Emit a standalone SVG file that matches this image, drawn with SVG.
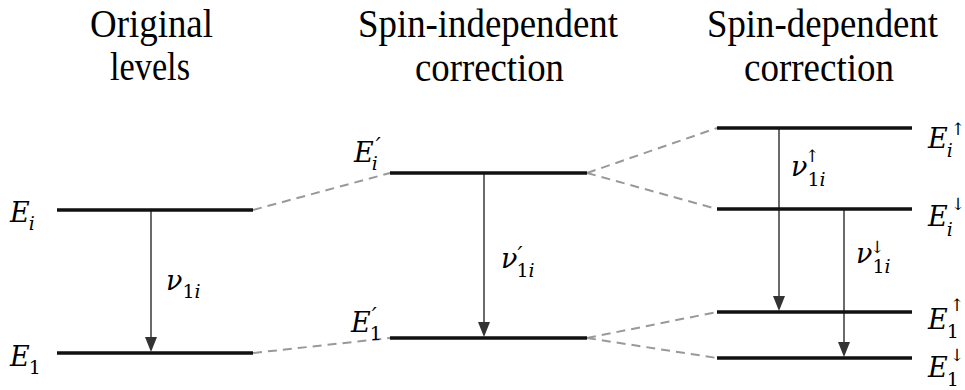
<svg xmlns="http://www.w3.org/2000/svg" width="965" height="390" viewBox="0 0 965 390">
<rect width="965" height="390" fill="#fff"/>

<g id="titles">
<text x="90" y="37" font-family="Liberation Serif" font-size="40" textLength="123" lengthAdjust="spacingAndGlyphs">Original</text>
<text x="110" y="80" font-family="Liberation Serif" font-size="40" textLength="80" lengthAdjust="spacingAndGlyphs">levels</text>
<text x="358" y="37" font-family="Liberation Serif" font-size="40" textLength="260" lengthAdjust="spacingAndGlyphs">Spin-independent</text>
<text x="415" y="81" font-family="Liberation Serif" font-size="40" textLength="149" lengthAdjust="spacingAndGlyphs">correction</text>
<text x="707" y="37" font-family="Liberation Serif" font-size="40" textLength="231" lengthAdjust="spacingAndGlyphs">Spin-dependent</text>
<text x="744" y="81" font-family="Liberation Serif" font-size="40" textLength="150" lengthAdjust="spacingAndGlyphs">correction</text>
</g>

<g id="connectors">
<g stroke="#999" stroke-width="2" stroke-dasharray="9 6" fill="none">
<line x1="253" y1="210" x2="390" y2="173"/>
<line x1="253" y1="353" x2="390" y2="338"/>
<line x1="587" y1="173" x2="717" y2="128"/>
<line x1="587" y1="173" x2="717" y2="209"/>
<line x1="587" y1="338" x2="717" y2="312"/>
<line x1="587" y1="338" x2="717" y2="358"/>
</g>
<g stroke="#6a6a6a" stroke-width="2" fill="none">
<line x1="151" y1="211" x2="151" y2="340"/>
<line x1="484" y1="174" x2="484" y2="325"/>
<line x1="779" y1="129" x2="779" y2="299"/>
<line x1="844" y1="210" x2="844" y2="345"/>
</g>
<g fill="#333">
<polygon points="145,337 157,337 151,352"/>
<polygon points="478,322 490,322 484,337"/>
<polygon points="773,296 785,296 779,311"/>
<polygon points="838,342 850,342 844,357"/>
</g>
</g>

<g id="orig-Ei">
<line x1="57" y1="210" x2="253" y2="210" stroke="#111" stroke-width="3.5"/>
<text x="10" y="222" font-family="DejaVu Serif" font-size="27" font-style="italic">E<tspan dx="-1" dy="8" font-size="19">i</tspan></text>
</g>
<g id="orig-E1">
<line x1="57" y1="353" x2="253" y2="353" stroke="#111" stroke-width="3.5"/>
<text x="10" y="366" font-family="DejaVu Serif" font-size="27" font-style="italic">E<tspan dx="-1" dy="8" font-size="19" font-style="normal">1</tspan></text>
</g>
<g id="nu-orig">
<text x="166" y="290" font-family="DejaVu Serif" font-size="27" font-style="italic">ν<tspan dy="8" font-size="19" font-style="normal">1</tspan><tspan font-size="19">i</tspan></text>
</g>

<g id="si-Ei">
<line x1="390" y1="173" x2="587" y2="173" stroke="#111" stroke-width="3.5"/>
<text x="354" y="162" font-family="DejaVu Serif" font-size="27" font-style="italic">E<tspan dx="-2" dy="8" font-size="19">i</tspan><tspan dx="-2" dy="-17" font-size="22">′</tspan></text>
</g>
<g id="si-E1">
<line x1="390" y1="338" x2="587" y2="338" stroke="#111" stroke-width="3.5"/>
<text x="351" y="332" font-family="DejaVu Serif" font-size="27" font-style="italic">E<tspan dx="-1" dy="8" font-size="19" font-style="normal">1</tspan><tspan dx="-10" dy="-17" font-size="22">′</tspan></text>
</g>
<g id="nu-si">
<text x="501" y="268" font-family="DejaVu Serif" font-size="27" font-style="italic">ν<tspan dy="-6" font-size="22">′</tspan><tspan dx="-6" dy="15" font-size="19" font-style="normal">1</tspan><tspan font-size="19">i</tspan></text>
</g>

<g id="sd-Ei-up">
<line x1="717" y1="128" x2="912" y2="128" stroke="#111" stroke-width="3.5"/>
<text x="928" y="148" font-family="DejaVu Serif" font-size="27" font-style="italic">E<tspan dx="-1" dy="9" font-size="19">i</tspan><tspan dx="-2" dy="-22" font-size="17" font-style="normal">↑</tspan></text>
</g>
<g id="sd-Ei-down">
<line x1="717" y1="209" x2="912" y2="209" stroke="#111" stroke-width="3.5"/>
<text x="928" y="226" font-family="DejaVu Serif" font-size="27" font-style="italic">E<tspan dx="-1" dy="10" font-size="19">i</tspan><tspan dx="-2" dy="-26" font-size="17" font-style="normal">↓</tspan></text>
</g>
<g id="sd-E1-up">
<line x1="717" y1="312" x2="912" y2="312" stroke="#111" stroke-width="3.5"/>
<text x="928" y="329" font-family="DejaVu Serif" font-size="27" font-style="italic">E<tspan dx="-1" dy="9" font-size="19" font-style="normal">1</tspan><tspan dx="-9" dy="-27" font-size="17" font-style="normal">↑</tspan></text>
</g>
<g id="sd-E1-down">
<line x1="717" y1="358" x2="912" y2="358" stroke="#111" stroke-width="3.5"/>
<text x="928" y="377" font-family="DejaVu Serif" font-size="27" font-style="italic">E<tspan dx="-1" dy="9" font-size="19" font-style="normal">1</tspan><tspan dx="-9" dy="-25" font-size="17" font-style="normal">↓</tspan></text>
</g>
<g id="nu-up">
<text x="791" y="176" font-family="DejaVu Serif" font-size="27" font-style="italic">ν<tspan dy="10" font-size="19" font-style="normal">1</tspan><tspan font-size="19">i</tspan><tspan x="805" y="162" font-size="17" font-style="normal">↑</tspan></text>
</g>
<g id="nu-down">
<text x="856" y="263" font-family="DejaVu Serif" font-size="27" font-style="italic">ν<tspan dy="10" font-size="19" font-style="normal">1</tspan><tspan font-size="19">i</tspan><tspan x="870" y="253" font-size="17" font-style="normal">↓</tspan></text>
</g>
</svg>
